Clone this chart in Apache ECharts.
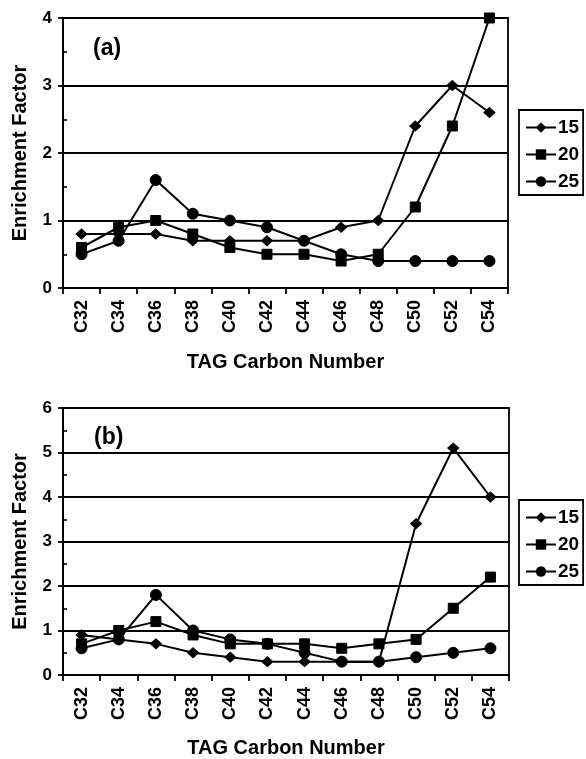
<!DOCTYPE html>
<html>
<head>
<meta charset="utf-8">
<script src="https://cdn.jsdelivr.net/npm/echarts@6/dist/echarts.min.js"></script>
<style>
html,body{margin:0;padding:0;background:#fff;}
#chart{width:586px;height:759px;}
</style>
</head>
<body>
<div id="chart"></div>
<script>
var categories = ['C32','C34','C36','C38','C40','C42','C44','C46','C48','C50','C52','C54'];
var seriesNames = ['15','20','25'];
// panel (a)
var a15 = [0.8,0.8,0.8,0.7,0.7,0.7,0.7,0.9,1.0,2.4,3.0,2.6];
var a20 = [0.6,0.9,1.0,0.8,0.6,0.5,0.5,0.4,0.5,1.2,2.4,4.0];
var a25 = [0.5,0.7,1.6,1.1,1.0,0.9,0.7,0.5,0.4,0.4,0.4,0.4];
// panel (b)
var b15 = [0.9,0.8,0.7,0.5,0.4,0.3,0.3,0.3,0.3,3.4,5.1,4.0];
var b20 = [0.7,1.0,1.2,0.9,0.7,0.7,0.7,0.6,0.7,0.8,1.5,2.2];
var b25 = [0.6,0.8,1.8,1.0,0.8,0.7,0.5,0.3,0.3,0.4,0.5,0.6];
var panelLabels = ['(a)','(b)'];
var yMax = [4, 6];
var xTitle = 'TAG Carbon Number';
var yTitle = 'Enrichment Factor';

var FONT = "'Liberation Sans', Arial, sans-serif";
var symbols = ['diamond','rect','circle'];
var symSizes = [[11,10],10,11];

var chart = echarts.init(document.getElementById('chart'), null, {renderer:'canvas'});

var grids = [
  {left:63, top:18, width:445, height:270},
  {left:63, top:408, width:446, height:271}
];
var nameGaps = [64, 63];

function xAxisFor(i){
  return {
    type:'category', gridIndex:i, data:categories, boundaryGap:true,
    axisLine:{show:true, lineStyle:{color:'#000', width:1.8}},
    axisTick:{show:true, length:6, lineStyle:{color:'#000', width:1.8}},
    axisLabel:{rotate:90, margin:12, color:'#000', fontFamily:FONT, fontWeight:'bold', fontSize:18},
    name:xTitle, nameLocation:'middle', nameGap:nameGaps[i],
    nameTextStyle:{color:'#000', fontFamily:FONT, fontWeight:'bold', fontSize:20},
    splitLine:{show:false}
  };
}
function yAxisFor(i){
  return {
    type:'value', gridIndex:i, min:0, max:yMax[i], interval:1,
    axisLine:{show:true, lineStyle:{color:'#000', width:1.8}},
    axisTick:{show:true, length:5, lineStyle:{color:'#000', width:1.8}},
    axisLabel:{margin:11, color:'#000', fontFamily:FONT, fontWeight:'bold', fontSize:17},
    splitLine:{show:true, lineStyle:{color:'#000', width:1.8}},
    name:yTitle, nameLocation:'middle', nameGap:33,
    nameTextStyle:{color:'#000', fontFamily:FONT, fontWeight:'bold', fontSize:20}
  };
}
function yMinorFor(i){
  return {
    type:'value', gridIndex:i, min:0, max:yMax[i], interval:0.5, position:'left',
    axisLine:{show:false}, axisLabel:{show:false}, splitLine:{show:false},
    axisTick:{show:true, inside:true, length:4, lineStyle:{color:'#000', width:1.6}}
  };
}

var dataA = [a15,a20,a25];
var dataB = [b15,b20,b25];
var series = [];
[dataA, dataB].forEach(function(panel, p){
  panel.forEach(function(vals, k){
    series.push({
      name:seriesNames[k], type:'line', xAxisIndex:p, yAxisIndex:p,
      data:vals, symbol:symbols[k], symbolSize:symSizes[k], showSymbol:true,
      lineStyle:{color:'#000', width:2}, itemStyle:{color:'#000', borderColor:'#000'},
      animation:false, z:3+k
    });
  });
});

function legendFor(top){
  return {
    data:seriesNames, orient:'vertical', left:519, top:top,
    itemWidth:30, itemHeight:13, itemGap:8, padding:[8,4,4,6],
    borderColor:'#000', borderWidth:1.8, backgroundColor:'#fff',
    selectedMode:false, textStyle:{color:'#000', fontFamily:FONT, fontWeight:'bold', fontSize:19, padding:[0,0,0,-3]}
  };
}

chart.setOption({
  animation:false,
  backgroundColor:'#fff',
  title:[
    {text:panelLabels[0], left:88, top:32, textStyle:{color:'#000', fontFamily:FONT, fontWeight:'bold', fontSize:23}},
    {text:panelLabels[1], left:89, top:421, textStyle:{color:'#000', fontFamily:FONT, fontWeight:'bold', fontSize:23}}
  ],
  grid:grids.map(function(g){ return Object.assign({show:true, borderColor:'#000', borderWidth:1.8, backgroundColor:'transparent'}, g); }),
  xAxis:[xAxisFor(0), xAxisFor(1)],
  yAxis:[yAxisFor(0), yAxisFor(1), yMinorFor(0), yMinorFor(1)],
  legend:[legendFor(110), legendFor(500)],
  series:series
});
</script>
</body>
</html>
